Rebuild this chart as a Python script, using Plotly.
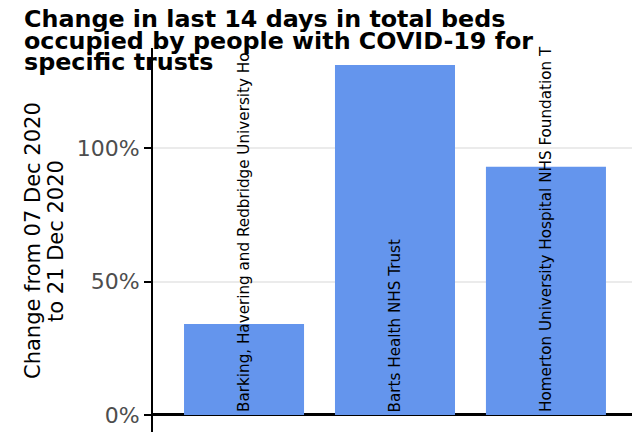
import plotly.graph_objects as go

trusts = ["Barking, Havering and Redbridge University Ho",
          "Barts Health NHS Trust",
          "Homerton University Hospital NHS Foundation T"]
change_pct = [34.1, 131.3, 93.1]
tick_vals = [0, 50, 100]
tick_text = ["0%", "50%", "100%"]
title_lines = ["Change in last 14 days in total beds",
               "occupied by people with COVID-19 for",
               "specific trusts"]
ytitle_lines = ["Change from 07 Dec 2020", "to 21 Dec 2020"]

# page body adds an 8px offset; layout below is expressed in screen pixels
OFF = 8
W, H = 640, 432 - OFF
ML, MR, MT, MB = 153 - OFF, 0, 48 - OFF, 0
PW, PH = W - ML - MR, H - MT - MB

def px_x(x):
    return (x - OFF - ML) / PW

def px_y(y):
    return (H - MB - (y - OFF)) / PH

TITLE_SIZE = 23.8
fig = go.Figure()
fig.add_trace(go.Bar(x=list(range(len(trusts))), y=change_pct,
                     marker=dict(color="#6495ED", line=dict(width=0)),
                     hoverinfo="skip"))

ann = []
for i, t in enumerate(trusts):
    ann.append(dict(x=i, y=0, xref="x", yref="y", text=t, textangle=-90,
                    showarrow=False, xanchor="center", yanchor="bottom",
                    yshift=1,
                    font=dict(family="DejaVu Sans", size=15.2, color="black")))

for k, line in enumerate(title_lines):
    base = 28.5 + 21.5 * k
    ann.append(dict(x=px_x(22), y=px_y(base + 0.236 * TITLE_SIZE + 1),
                    xref="paper", yref="paper",
                    text="<b>" + line + "</b>", showarrow=False,
                    xanchor="left", yanchor="bottom",
                    font=dict(family="DejaVu Sans", size=TITLE_SIZE, color="black")))

for k, line in enumerate(ytitle_lines):
    ann.append(dict(x=px_x(33 + 23 * k), y=px_y(241), xref="paper", yref="paper",
                    text=line, textangle=-90, showarrow=False,
                    xanchor="center", yanchor="middle",
                    font=dict(family="DejaVu Sans", size=21, color="black")))

fig.update_layout(
    width=W, height=H,
    margin=dict(l=ML, r=MR, t=MT, b=MB, pad=0),
    paper_bgcolor="white", plot_bgcolor="white",
    showlegend=False, bargap=0.205,
    annotations=ann,
    xaxis=dict(range=[-0.603, 2.676], showticklabels=False, showgrid=False,
               zeroline=False, showline=False, ticks=""),
    yaxis=dict(range=[-6.4, 137.7], tickvals=tick_vals, ticktext=tick_text,
               showgrid=True, gridcolor="#EBEBEB", gridwidth=1.5,
               zeroline=True, zerolinecolor="black", zerolinewidth=3,
               showline=True, linecolor="black", linewidth=2,
               ticks="outside", ticklen=7, tickwidth=2, tickcolor="black",
               tickfont=dict(family="DejaVu Sans", size=22, color="#4D4D4D")),
)

fig.write_html("out.html")
